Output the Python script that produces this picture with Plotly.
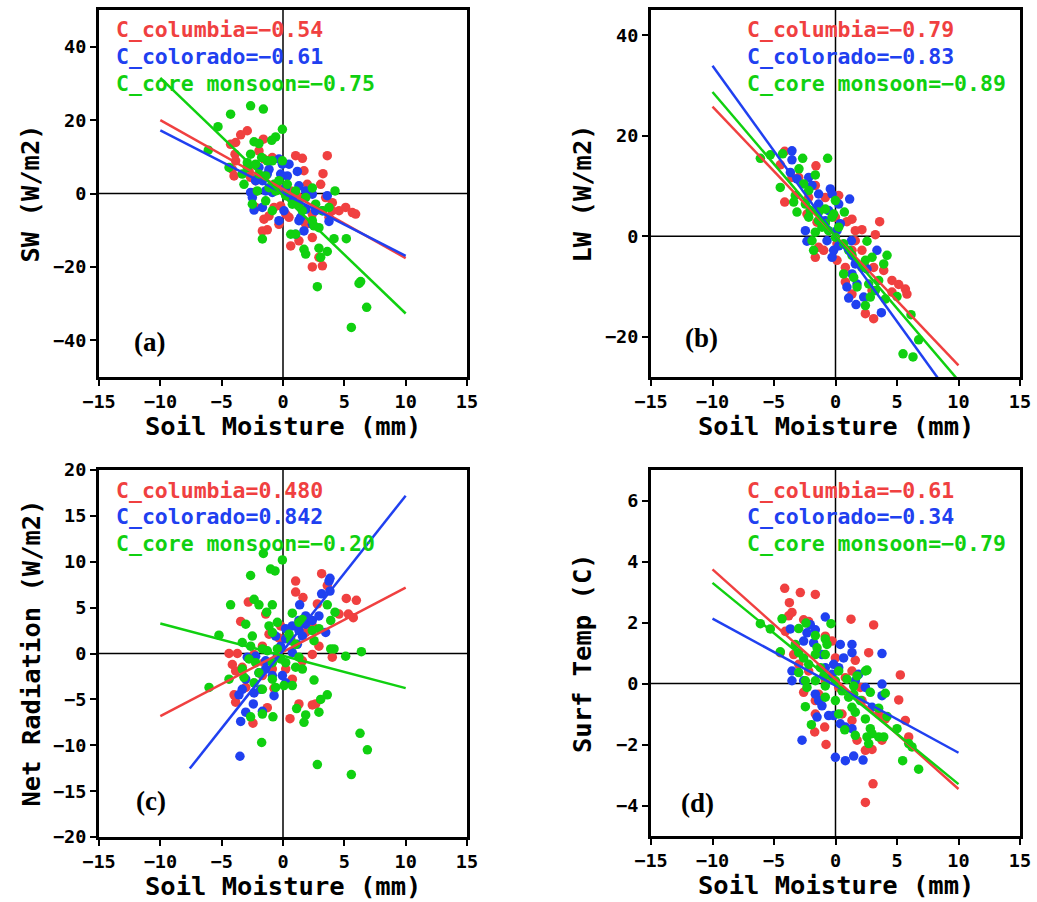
import numpy as np
import plotly.graph_objects as go

W, H = 1037, 902

RED = "#f04040"
BLUE = "#2040f0"
GREEN = "#10d010"

# ---- soil moisture (mm) vs. SW anomaly (W/m2) ----
sw_columbia_x = [-2.91, -3.45, -1.60, -3.86, -4.27, -3.91, 1.03, 1.58, 3.61, 3.26, 3.07, 1.98, -3.86, -4.13, -3.99, -2.77, -1.96, -1.55, -0.05, 0.63, 4.02, 4.57, 5.11, 5.65, 5.92, 4.02, -1.55, -1.14, -1.68, -1.28, 0.63, 1.30, 2.39, 2.93, 2.39, 3.21, 1.71, 2.39, 1.85, 0.22, -0.19, -2.36, -2.23, -2.64, 1.71, 1.30, 0.49, -0.73, -0.33, 3.48, 3.75, -2.23, -0.87, -1.68]
sw_columbia_y = [17.1, 16.0, 14.8, 13.9, 13.4, 10.7, 10.3, 9.6, 10.3, 5.4, 2.5, 2.5, 8.9, 6.6, 4.8, 6.2, 11.6, 9.4, 1.2, 0.7, -2.5, -4.7, -3.8, -5.2, -5.6, -4.7, -7.0, -6.1, -10.2, -9.9, -14.3, -12.9, -12.0, -17.4, -20.0, -19.7, -7.3, -5.6, -8.4, -5.6, -3.4, 0.3, 3.5, 4.4, 6.2, -1.1, -6.5, -3.8, -8.4, -1.1, -6.5, -3.8, 9.8, 4.4]
sw_colorado_x = [-0.33, -0.05, 1.17, 0.35, -0.19, -1.28, -1.68, -2.23, -2.64, -2.50, -2.36, -1.68, -0.33, 0.08, 1.30, 1.44, 1.71, 1.03, 2.39, 2.39, 1.30, 0.76, 3.75, 3.61, 3.21, -0.87, -0.60, -1.41, 0.22, 1.85, 1.85, 2.66, -1.96, -1.14, 0.49]
sw_colorado_y = [9.4, 8.0, 6.0, 4.8, 5.3, 5.3, 3.5, 3.5, 0.3, -1.1, -4.5, -3.8, -7.4, -4.7, -7.4, -6.5, -10.2, -11.1, -8.4, -0.2, 2.1, -1.1, -7.6, -0.6, -4.7, 0.3, 2.5, 0.7, 1.6, 0.7, -4.3, -4.7, 7.1, 6.6, 8.0]
sw_core_x = [-2.64, -1.60, -4.27, -5.30, -0.05, -0.60, -0.92, -1.96, -2.36, -6.09, -2.64, -4.40, -3.32, -3.18, -2.50, -1.68, 0.63, 1.03, 1.71, 1.85, 2.93, 3.61, 3.07, 4.16, 5.16, 4.24, 2.80, 6.33, 6.20, 6.82, 5.57, 2.39, 2.53, 2.93, 3.75, 3.21, 2.66, 1.30, 0.76, 0.22, -0.73, -0.33, -0.87, -0.05, -1.28, -2.23, -2.91, -1.96, -1.41, -2.09, -1.41, -0.87, -0.60, -1.14, 1.03, 0.35, 1.85, 1.58, 2.39, -2.91, -1.74]
sw_core_y = [23.9, 23.0, 21.6, 18.2, 17.5, 15.4, 14.5, 13.6, 14.1, 11.8, 10.7, 7.1, 5.3, 2.5, -2.9, -12.4, -11.1, -11.1, -15.2, -16.5, -14.9, -15.8, -17.4, -12.3, -12.3, 0.7, -25.4, -24.0, -24.5, -31.0, -36.5, -7.4, -8.8, -9.3, -3.8, -4.7, -2.9, -2.9, -2.9, -0.6, 2.5, 3.5, 8.9, 8.9, 8.9, 8.0, 7.1, 5.3, 4.8, 0.7, -2.0, -4.7, 0.7, 1.6, 0.7, 2.5, -1.1, -4.7, 1.5, 8.4, 9.8]

# ---- soil moisture vs. LW anomaly (W/m2) ----
lw_columbia_x = [-4.13, -4.49, -4.13, -1.59, -1.64, -3.54, -2.99, 1.34, 0.93, 2.15, 1.61, 3.59, 3.24, 0.26, -0.83, -2.18, -1.37, -1.64, -0.96, 0.12, 0.12, 0.80, 1.34, 2.43, 3.10, 3.92, 4.59, 5.14, 5.68, 5.81, 4.59, 2.97, 0.80, 1.34, 2.43, 3.10, 2.15, 1.61, -1.50, -2.32, -0.01]
lw_columbia_y = [16.9, 14.2, 6.8, 14.0, 10.1, 11.7, 11.7, 3.4, 2.9, 1.3, 1.1, 2.9, 0.3, 8.1, 7.7, 7.7, -2.2, -4.2, -2.8, -1.5, -4.8, -6.2, -2.8, -6.2, -6.2, -6.8, -8.8, -9.6, -10.5, -11.5, -11.1, -10.8, -9.1, -11.5, -15.4, -16.4, -2.8, -0.9, 2.8, 4.4, 3.8]
lw_colorado_x = [-3.54, -3.54, -3.67, -3.13, -2.18, -1.91, -1.37, -0.42, -0.28, 1.15, 0.26, -1.37, -0.56, -2.45, -2.32, -0.69, -0.28, -0.15, 0.39, 1.29, 0.26, 1.34, 1.75, 1.07, 1.67, 2.29, 3.73, 3.37, 2.56, 1.61, -0.83, 0.12, 0.93]
lw_colorado_y = [17.0, 15.2, 12.7, 11.4, 11.7, 10.1, 8.4, 9.4, 8.4, 7.4, 6.4, 6.4, 5.1, 1.1, -1.0, -0.9, -4.2, -2.8, 2.5, -0.9, -1.9, -7.5, -9.5, -12.3, -13.6, -12.1, -15.2, -2.8, -6.5, -5.5, 3.1, 1.1, -10.1]
lw_core_x = [-6.11, -5.30, -4.30, -2.67, -0.64, -2.97, -1.64, -4.49, -3.27, -3.40, -2.59, -2.18, -2.45, -3.13, -2.05, -1.37, -0.83, -0.01, 0.72, -0.15, -0.83, -1.64, -1.91, -1.78, -1.10, -0.56, -0.01, 0.66, 1.07, 1.34, 2.56, 2.97, 4.19, 3.92, 2.43, 0.66, 1.48, 1.75, 2.70, 3.51, 3.24, 2.83, 2.43, 4.05, 5.00, 6.14, 6.76, 5.49, 6.30, -2.18, -1.37, -0.28, 0.26, 2.15]
lw_core_y = [15.5, 16.2, 16.4, 15.5, 15.5, 13.4, 12.2, 9.7, 8.1, 6.8, 10.4, 9.1, 6.4, 4.8, 5.1, 4.8, 5.4, 7.1, 4.8, 4.4, 2.5, 0.8, -0.9, -2.8, 1.8, 1.1, -0.2, -1.5, -2.8, -3.8, -1.0, -4.2, -3.8, -5.5, -4.8, -7.5, -8.2, -10.1, -9.5, -8.8, -10.8, -12.1, -13.8, -12.5, -12.0, -15.6, -20.6, -23.4, -24.0, 3.8, 3.1, 3.8, 1.8, -6.2]

# ---- soil moisture vs. net radiation anomaly (W/m2) ----
nr_columbia_x = [3.15, 1.03, 3.61, 1.03, 1.63, 5.16, 5.98, 2.80, 4.57, 5.33, 5.73, -2.83, -3.45, -1.41, -1.14, -0.33, -0.19, 0.63, 1.85, 2.39, 2.93, -4.40, -3.72, -4.13, -3.86, -3.32, -2.36, -1.68, -0.87, -1.68, 0.22, 0.76, 1.58, 2.39, 4.02, -3.99, -3.86, -3.04, -0.73, 1.30, 2.39, 2.66, 0.57, -2.45, -1.28, -1.55]
nr_columbia_y = [8.7, 7.9, 7.4, 6.7, 6.1, 6.0, 5.8, 5.4, 4.3, 4.3, 3.9, 5.6, 3.5, 4.3, 2.1, 1.7, 3.0, 1.6, 2.3, 3.0, 0.8, 0.0, 0.0, -1.2, -1.9, -1.5, -0.1, 0.8, -1.7, -2.4, -1.7, -2.8, -0.8, -0.1, -0.4, -4.5, -5.3, -3.7, -3.8, -5.5, -5.6, -5.5, -7.1, -7.6, -5.9, -1.0]
nr_colorado_x = [3.83, 3.75, 3.83, 3.15, 1.36, 1.85, 0.76, 0.22, 1.30, 1.58, 2.39, 2.93, 3.48, 0.22, -0.19, -0.60, 1.17, 0.76, -0.46, -1.41, -2.23, -2.91, -3.04, -1.96, -1.41, -0.87, -0.05, 0.22, -2.36, -1.82, -0.73, -3.32, -3.59, -3.04, -2.42, -1.68, -3.45, -3.51, 1.30, 1.85]
nr_colorado_y = [8.2, 7.9, 6.8, 6.5, 5.3, 4.1, 3.0, 2.7, 2.5, 1.9, 3.6, 4.1, 2.3, 1.6, 0.8, 1.9, 1.0, 0.1, -0.3, -0.8, -0.3, -0.4, -2.8, -2.1, -1.7, -2.4, -2.4, -3.2, -4.3, -3.9, -4.6, -3.9, -4.5, -6.4, -5.5, -6.3, -7.4, -11.2, 3.6, 3.2]
nr_core_x = [-1.60, -0.05, -1.01, -0.65, -2.64, -2.36, -1.96, -4.27, -0.87, -1.33, 0.76, 1.58, 3.61, 4.24, 3.89, -3.04, -2.50, -1.14, -0.87, -0.46, -5.22, -3.32, -2.64, -1.68, -1.28, -0.46, 0.49, 0.63, 1.03, 1.30, 2.39, 2.93, 2.53, 3.89, 4.16, 5.11, 6.39, -6.03, -4.40, -3.32, -3.18, -2.77, -2.23, -1.96, -2.36, -1.68, -0.87, -0.60, 0.08, 0.22, 0.76, 1.03, 1.30, 1.58, 2.53, 3.07, 3.61, 1.11, 1.85, 1.71, 2.93, -2.64, -1.68, -0.82, -1.74, 6.28, 6.88, 2.80, 5.57, -0.87, -0.19]
nr_core_y = [10.9, 10.2, 9.2, 9.0, 8.5, 5.9, 5.3, 5.3, 5.3, 4.5, 4.4, 3.7, 5.3, 4.5, 3.6, 3.2, 1.9, 3.0, 2.3, 3.4, 2.0, 1.2, 0.8, 0.5, 0.3, 0.5, 2.1, 1.4, 1.0, 3.4, 2.5, 2.7, 1.4, 0.5, 0.5, -0.3, 0.2, -3.7, -2.8, -1.7, -2.6, -0.6, -1.0, -2.1, -3.2, -3.9, -2.8, -3.7, -3.5, -1.0, -3.5, -1.5, -0.4, -1.7, -2.9, -5.0, -4.5, -6.0, -6.7, -7.5, -6.4, -6.9, -6.6, -6.9, -9.7, -8.7, -10.5, -12.1, -13.2, -1.0, -0.6]

# ---- soil moisture vs. surface temperature anomaly (C) ----
ts_columbia_x = [-4.13, -2.86, -1.64, -3.75, -3.54, -3.81, -2.59, -2.18, -4.08, -4.49, -3.40, -0.83, -0.28, 1.26, 3.10, 2.70, 1.61, 5.27, 5.14, 5.68, 5.95, 3.51, 4.05, 1.34, 0.80, 2.02, 2.15, -2.18, -2.59, -1.64, -1.64, -1.69, -0.88, -0.77, 0.53, 1.34, 1.75, 2.43, 2.97, 3.78, 3.05, 2.43, 0.26, -1.37, -2.99, -0.01, -0.83]
ts_columbia_y = [3.12, 2.98, 2.92, 2.65, 2.33, 2.22, 2.09, 2.03, 1.71, 1.01, 0.95, 1.55, 1.39, 2.11, 1.92, 1.01, 0.76, 0.28, -0.54, -1.21, -1.75, -1.00, -1.16, 0.41, 0.19, -0.13, -0.56, 0.41, -0.29, -0.56, -1.00, -1.59, -1.43, -2.00, -1.00, -1.21, -1.86, -2.19, -2.16, -1.86, -3.29, -3.90, -0.13, -0.35, 0.63, 0.84, 0.09]
ts_colorado_x = [-0.83, -2.05, -1.64, -2.32, -3.67, -2.59, -1.78, -1.10, 0.39, 1.34, 1.34, 0.66, -0.15, 3.78, -3.54, -3.54, -2.59, -1.64, -1.37, -1.10, -1.50, -0.56, -0.15, 0.39, 0.80, 1.34, 3.78, 3.78, 2.43, 1.61, 1.88, 2.97, -2.72, -0.01, 0.80, 1.48, 2.24, -0.28, 0.26, -0.83]
ts_colorado_y = [2.18, 1.93, 1.76, 1.66, 1.79, 1.39, 1.33, 0.95, 1.28, 1.28, 1.01, 0.84, 0.63, 0.98, 0.41, 0.09, 0.09, -0.35, -0.56, -0.73, -1.10, -1.05, -1.05, -1.32, -1.43, -1.48, -0.02, -0.40, -0.13, 0.09, 0.30, -0.78, -1.86, -2.42, -2.53, -2.38, -2.51, 0.30, 0.52, 0.52]
ts_core_x = [-6.11, -5.30, -4.35, -4.49, -2.99, -2.40, -1.64, -0.37, -0.83, -0.69, -1.50, -3.27, -2.99, -2.59, -2.18, -1.64, -0.83, -1.23, -0.96, 0.26, 0.93, 1.48, 1.75, 2.43, 2.56, -2.99, -2.45, -2.32, -1.64, -0.83, -0.01, 0.53, 1.07, 1.48, 2.02, 2.83, 4.05, -2.45, -0.83, -0.01, 1.34, 1.61, 2.43, 3.51, 4.19, 2.83, 2.56, 2.97, 3.51, 3.92, 5.00, 5.95, 6.22, 5.46, 6.76, -1.96, 0.75, 1.61, 2.70, 0.26]
ts_core_y = [1.96, 1.79, 2.12, 1.04, 1.80, 1.98, 1.57, 1.96, 1.46, 1.28, 1.17, 1.28, 1.01, 0.84, 0.63, 0.95, 0.95, 0.52, 0.25, 0.41, 0.14, -0.08, 0.25, 0.41, 0.44, 0.36, 0.09, -0.13, 0.09, -0.08, 0.09, -0.24, -0.45, -0.35, -0.56, -0.29, -0.32, -0.76, -0.45, -0.56, -0.78, -0.94, -1.16, -0.81, -1.08, -1.48, -1.75, -1.64, -1.75, -1.75, -1.48, -1.97, -2.08, -2.53, -2.81, -1.35, -1.52, -1.70, -1.97, -1.00]

# regression fits per panel: [columbia, colorado, core monsoon]
sw_slope = [-1.88, -1.71, -3.21]
sw_intercept = [1.2, 0.1, -0.6]
lw_slope = [-2.575, -3.39, -2.87]
lw_intercept = [0.05, 0.0, 0.0]
nr_slope = [0.70, 1.69, -0.3525]
nr_intercept = [0.17, 0.3, -0.25]
ts_slope = [-0.36, -0.22, -0.33]
ts_intercept = [0.14, -0.07, 0.0]
fit_x_start = {"nr": [-10, -7.6, -10]}

# correlation coefficients printed in each panel
sw_corr = ["-0.54", "-0.61", "-0.75"]
lw_corr = ["-0.79", "-0.83", "-0.89"]
nr_corr = ["0.480", "0.842", "-0.20"]
ts_corr = ["-0.61", "-0.34", "-0.79"]

region_names = ["C_columbia", "C_colorado", "C_core monsoon"]
region_colors = [RED, BLUE, GREEN]

x_ticks = [-15, -10, -5, 0, 5, 10, 15]

panels = [
    dict(key="sw", label="(a)", ytitle="SW (W/m2)",
         xs=[sw_columbia_x, sw_colorado_x, sw_core_x], ys=[sw_columbia_y, sw_colorado_y, sw_core_y],
         slope=sw_slope, icpt=sw_intercept, corr=sw_corr,
         yrange=[-50, 50], yticks=[-40, -20, 0, 20, 40],
         box=(99, 10, 467, 377), text_left=114, lab=(149, 342)),
    dict(key="lw", label="(b)", ytitle="LW (W/m2)",
         xs=[lw_columbia_x, lw_colorado_x, lw_core_x], ys=[lw_columbia_y, lw_colorado_y, lw_core_y],
         slope=lw_slope, icpt=lw_intercept, corr=lw_corr,
         yrange=[-28, 45], yticks=[-20, 0, 20, 40],
         box=(651, 10, 1020, 377), text_left=745, lab=(701, 338)),
    dict(key="nr", label="(c)", ytitle="Net Radiation (W/m2)",
         xs=[nr_columbia_x, nr_colorado_x, nr_core_x], ys=[nr_columbia_y, nr_colorado_y, nr_core_y],
         slope=nr_slope, icpt=nr_intercept, corr=nr_corr,
         yrange=[-20, 20], yticks=[-20, -15, -10, -5, 0, 5, 10, 15, 20],
         box=(99, 470, 467, 837), text_left=114, lab=(151, 801)),
    dict(key="ts", label="(d)", ytitle="Surf Temp (C)",
         xs=[ts_columbia_x, ts_colorado_x, ts_core_x], ys=[ts_columbia_y, ts_colorado_y, ts_core_y],
         slope=ts_slope, icpt=ts_intercept, corr=ts_corr,
         yrange=[-5, 7], yticks=[-4, -2, 0, 2, 4, 6],
         box=(651, 470, 1020, 836), text_left=745, lab=(697, 803)),
]


def px(x):
    return x / W


def py(y):
    return 1 - y / H


MONO = "DejaVu Sans Mono"
fig = go.Figure()
layout = dict(width=W, height=H, margin=dict(l=0, r=0, t=0, b=0, autoexpand=False),
              template="none", paper_bgcolor="white", plot_bgcolor="white",
              showlegend=False)
annotations = []
shapes = []

for i, p in enumerate(panels, start=1):
    sfx = "" if i == 1 else str(i)
    xa, ya = "x" + sfx, "y" + sfx
    left, top, right, bottom = p["box"]

    axis_common = dict(showgrid=False, zeroline=False, showline=True, linewidth=3,
                       linecolor="black", mirror=True, ticks="outside", ticklen=6,
                       tickwidth=2, tickcolor="black", automargin=False,
                       tickfont=dict(family=MONO, size=18.5, color="black", weight="bold"))
    layout["xaxis" + sfx] = dict(axis_common, domain=[px(left), px(right)], range=[-15, 15],
                                 tickvals=x_ticks, anchor=ya)
    layout["yaxis" + sfx] = dict(axis_common, domain=[py(bottom), py(top)], range=p["yrange"],
                                 tickvals=p["yticks"], anchor=xa)

    # zero reference lines
    shapes.append(dict(type="line", xref=xa, yref=ya + " domain", x0=0, x1=0, y0=0, y1=1,
                       line=dict(color="black", width=1.5), layer="below"))
    shapes.append(dict(type="line", xref=xa + " domain", yref=ya, x0=0, x1=1, y0=0, y1=0,
                       line=dict(color="black", width=1.5), layer="below"))

    # scatter points
    for xs, ys, col in zip(p["xs"], p["ys"], region_colors):
        fig.add_trace(go.Scatter(x=xs, y=ys, mode="markers", xaxis=xa, yaxis=ya,
                                 marker=dict(size=9.5, color=col, line=dict(width=0))))

    # regression lines
    starts = fit_x_start.get(p["key"], [-10, -10, -10])
    for m, b, x0, col in zip(p["slope"], p["icpt"], starts, region_colors):
        lx = np.array([x0, 10.0])
        fig.add_trace(go.Scatter(x=lx, y=b + m * lx, mode="lines", xaxis=xa, yaxis=ya,
                                 line=dict(color=col, width=2.5)))

    # correlation text
    for k, (name, r, col) in enumerate(zip(region_names, p["corr"], region_colors)):
        ty = top + 20 + 26.5 * k
        annotations.append(dict(x=px(p["text_left"]), y=py(ty), xref="paper", yref="paper",
                                xanchor="left", yanchor="middle", showarrow=False,
                                text=f"{name}={r.replace('-', '−')}",
                                font=dict(family=MONO, size=21.5, color=col, weight="bold")))

    # panel letter
    annotations.append(dict(x=px(p["lab"][0]), y=py(p["lab"][1]), xref="paper", yref="paper",
                            xanchor="center", yanchor="middle", showarrow=False, text=p["label"],
                            font=dict(family="Liberation Serif", size=27, color="black",
                                      weight="bold")))

    # axis titles
    annotations.append(dict(x=px((left + right) / 2), y=py(bottom + 49), xref="paper",
                            yref="paper", xanchor="center", yanchor="middle", showarrow=False,
                            text="Soil Moisture (mm)",
                            font=dict(family=MONO, size=25.5, color="black", weight="bold")))
    annotations.append(dict(x=px(left - 69), y=py((top + bottom) / 2), xref="paper",
                            yref="paper", xanchor="center", yanchor="middle", showarrow=False,
                            textangle=-90, text=p["ytitle"],
                            font=dict(family=MONO, size=25.5, color="black", weight="bold")))

layout["annotations"] = annotations
layout["shapes"] = shapes
fig.update_layout(**layout)
fig.write_html("out.html")
